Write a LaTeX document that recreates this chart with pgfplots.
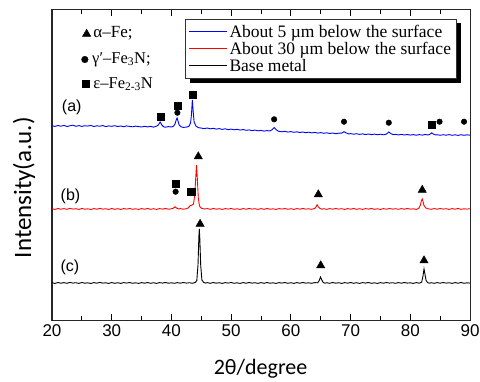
\documentclass[border=0pt]{standalone}
\usepackage{fontspec}
\setmainfont{Liberation Serif}
\newfontfamily\arialfont{Liberation Sans}
\newfontfamily\calfont{Carlito}
\usepackage{pgfplots}
\pgfplotsset{compat=1.18}
\begin{document}
\begin{tikzpicture}
\begin{axis}[
  scale only axis, width=418pt, height=310pt,
  xmin=20, xmax=90, ymin=0, ymax=310,
  xtick={20,30,...,90}, minor xtick={25,35,...,85},
  ytick=\empty, minor ytick={36,90.5,145,199.5,254},
  tick align=inside, tick pos=both,
  major tick length=6.5pt, minor tick length=4pt,
  every tick/.style={black, line width=0.8pt},
  axis line style={line width=1pt, black!85},
  /pgf/number format/assume math mode=true,
  ticklabel style={font=\arialfont\fontsize{17}{20}\selectfont},
  xticklabel style={yshift=-1pt},
  xlabel={\calfont 2θ/degree},
  ylabel={\calfont Intensity(a.u.)},
  x label style={font=\fontsize{22}{26}\selectfont, at={(axis description cs:0.499,-0.158)}, anchor=center},
  y label style={font=\fontsize{25}{30}\selectfont, at={(axis description cs:-0.067,0.427)}, anchor=center},
  legend style={name=leg, at={(axis description cs:0.3185,0.971)}, anchor=north west,
    draw=black!80, line width=0.8pt, fill=white,
    font=\fontsize{17.5}{21}\selectfont, inner xsep=3pt, inner ysep=3.3pt,
    row sep=-0.6pt, cells={anchor=west}},
  legend image code/.code={\draw[#1, line width=1pt] (0pt,0pt) -- (38pt,0pt);},
]
% (a) about 5 um below the surface
\addplot[blue, line width=0.9pt] coordinates {
(20,194.3)(20.5,193.6)(21,194.5)(21.5,193.8)(22,194.6)(22.5,193.5)(23,194.2)(23.5,194.8)(24,193.7)(24.5,194.4)
(25,193.6)(25.5,194.3)(26,193.9)(26.5,194.6)(27,193.5)(27.5,194.2)(28,193.8)(28.5,194.5)(29,193.4)(29.5,194.1)
(30,193.7)(30.5,194.3)(31,193.5)(31.5,194.0)(32,193.3)(32.5,194.1)(33,193.6)(33.5,193.2)(34,193.9)(34.5,193.4)
(35,193.0)(35.5,193.7)(36,193.1)(36.5,193.6)(37,192.9)(37.5,193.8)(37.8,195)(38.1,198)(38.4,195)(38.7,193.2)
(39,192.8)(39.5,193.4)(40,193.0)(40.3,193.6)(40.6,196)(40.8,200)(40.95,202)(41.1,199)(41.3,195)(41.6,193.2)
(42,192.6)(42.5,192.9)(42.9,193.5)(43.2,197)(43.35,205)(43.5,220)(43.65,208)(43.8,198)(44.1,194)(44.5,192.4)
(45,191.9)(45.5,191.4)(46,192.0)(46.5,191.2)(47,191.7)(47.5,190.9)(48,191.4)(48.5,190.6)(49,191.2)(49.5,190.4)
(50,190.9)(50.5,190.2)(51,190.7)(51.5,189.9)(52,190.5)(52.5,189.7)(53,190.1)(53.5,189.4)(54,189.9)(54.5,189.2)
(55,189.6)(55.5,188.9)(56,189.4)(56.5,189.0)(56.9,190.5)(57.2,192.5)(57.5,190.5)(57.9,188.8)(58.5,188.2)(59,188.7)
(59.5,187.9)(60,188.4)(60.5,187.7)(61,188.2)(61.5,187.5)(62,188.0)(62.5,187.3)(63,187.8)(63.5,187.1)(64,187.6)
(64.5,186.9)(65,187.4)(65.5,186.7)(66,187.2)(66.5,186.5)(67,187.0)(67.5,186.3)(68,186.8)(68.5,186.9)(68.9,188.3)
(69.3,187.0)(69.7,186.0)(70,186.4)(70.5,185.8)(71,186.3)(71.5,185.6)(72,186.1)(72.5,185.5)(73,186.0)(73.5,185.4)
(74,185.9)(74.5,185.3)(75,185.8)(75.5,185.2)(76,185.9)(76.4,188.0)(76.8,186.2)(77.2,185.3)(77.5,185.7)(78,185.1)
(78.5,185.6)(79,185.0)(79.5,185.5)(80,184.9)(80.5,185.4)(81,184.8)(81.5,185.4)(82,184.9)(82.5,185.5)(83,185.0)
(83.3,185.8)(83.6,187.2)(83.9,185.8)(84.3,185.0)(84.5,185.3)(85,184.7)(85.5,185.3)(86,184.8)(86.5,185.4)(87,184.7)
(87.5,185.2)(88,184.6)(88.5,185.3)(89,184.7)(89.5,185.2)(90,184.8)};
\addlegendentry{About 5 µm below the surface}
% (b) about 30 um below the surface
\addplot[red, line width=0.9pt] coordinates {
(20,111.3)(20.5,110.6)(21,111.5)(21.5,110.8)(22,111.4)(22.5,110.7)(23,111.6)(23.5,110.9)(24,111.3)(24.5,110.6)
(25,111.5)(25.5,110.8)(26,111.2)(26.5,110.5)(27,111.4)(27.5,110.8)(28,111.6)(28.5,110.9)(29,111.2)(29.5,110.6)
(30,111.5)(30.5,110.7)(31,111.3)(31.5,110.6)(32,111.4)(32.5,110.9)(33,111.5)(33.5,110.7)(34,111.2)(34.5,110.6)
(35,111.4)(35.5,110.8)(36,111.5)(36.5,110.7)(37,111.3)(37.5,110.6)(38,111.4)(38.5,110.9)(39,111.5)(39.5,110.8)
(40,111.2)(40.3,111.8)(40.6,113.2)(40.9,111.8)(41.2,111.0)(41.5,111.4)(42,110.8)(42.5,111.3)(42.8,112.0)(43.1,114.2)
(43.4,114.8)(43.7,116)(43.9,125)(44.05,140)(44.2,155)(44.35,140)(44.5,122)(44.7,114)(45,111.8)(45.5,111.0)
(46,111.4)(46.5,110.7)(47,111.5)(47.5,110.8)(48,111.3)(48.5,110.6)(49,111.4)(49.5,110.9)(50,111.5)(50.5,110.7)
(51,111.2)(51.5,110.6)(52,111.4)(52.5,110.8)(53,111.5)(53.5,110.9)(54,111.3)(54.5,110.6)(55,111.4)(55.5,110.7)
(56,111.5)(56.5,110.8)(57,111.2)(57.5,110.6)(58,111.4)(58.5,110.9)(59,111.5)(59.5,110.7)(60,111.3)(60.5,110.6)
(61,111.4)(61.5,110.8)(62,111.5)(62.5,110.9)(63,111.2)(63.5,110.7)(64,111.6)(64.2,113)(64.4,115.2)(64.6,113)
(64.9,111.5)(65.2,110.8)(65.5,111.3)(66,110.7)(66.5,111.4)(67,110.8)(67.5,111.5)(68,110.9)(68.5,111.3)(69,110.6)
(69.5,111.4)(70,110.8)(70.5,111.5)(71,110.7)(71.5,111.3)(72,110.6)(72.5,111.4)(73,110.9)(73.5,111.5)(74,110.7)
(74.5,111.2)(75,110.6)(75.5,111.4)(76,110.8)(76.5,111.5)(77,110.9)(77.5,111.3)(78,110.7)(78.5,111.4)(79,110.8)
(79.5,111.5)(80,110.9)(80.5,111.2)(81,110.6)(81.4,111.6)(81.7,115)(81.85,119)(82.0,121)(82.15,118)(82.3,114.5)
(82.6,112)(83,111.2)(83.5,110.7)(84,111.4)(84.5,110.8)(85,111.5)(85.5,110.9)(86,111.3)(86.5,110.6)(87,111.4)
(87.5,110.8)(88,111.5)(88.5,110.7)(89,111.2)(89.5,110.9)(90,111.3)};
\addlegendentry{About 30 µm below the surface}
% (c) base metal
\addplot[black, line width=0.9pt] coordinates {
(20,37.3)(20.5,36.6)(21,37.5)(21.5,36.8)(22,37.4)(22.5,36.7)(23,37.6)(23.5,36.9)(24,37.3)(24.5,36.6)
(25,37.5)(25.5,36.8)(26,37.2)(26.5,36.5)(27,37.4)(27.5,36.8)(28,37.6)(28.5,36.9)(29,37.2)(29.5,36.6)
(30,37.5)(30.5,36.7)(31,37.3)(31.5,36.6)(32,37.4)(32.5,36.9)(33,37.5)(33.5,36.7)(34,37.2)(34.5,36.6)
(35,37.4)(35.5,36.8)(36,37.5)(36.5,36.7)(37,37.3)(37.5,36.6)(38,37.4)(38.5,36.9)(39,37.5)(39.5,36.8)
(40,37.2)(40.5,36.7)(41,37.4)(41.5,36.8)(42,37.5)(42.5,36.9)(43,37.3)(43.5,36.7)(44,37.6)(44.25,39.5)
(44.45,55)(44.6,84)(44.67,91)(44.75,82)(44.9,55)(45.1,40)(45.4,37.6)(45.7,36.9)(46,37.4)(46.5,36.7)
(47,37.5)(47.5,36.8)(48,37.3)(48.5,36.6)(49,37.4)(49.5,36.9)(50,37.5)(50.5,36.7)(51,37.2)(51.5,36.6)
(52,37.4)(52.5,36.8)(53,37.5)(53.5,36.9)(54,37.3)(54.5,36.6)(55,37.4)(55.5,36.7)(56,37.5)(56.5,36.8)
(57,37.2)(57.5,36.6)(58,37.4)(58.5,36.9)(59,37.5)(59.5,36.7)(60,37.3)(60.5,36.6)(61,37.4)(61.5,36.8)
(62,37.5)(62.5,36.9)(63,37.2)(63.5,36.7)(64,37.4)(64.5,37.2)(64.75,39.5)(64.95,43)(65.15,40.5)(65.4,37.6)
(65.7,36.8)(66,37.3)(66.5,36.7)(67,37.5)(67.5,36.8)(68,37.3)(68.5,36.6)(69,37.4)(69.5,36.8)(70,37.5)
(70.5,36.7)(71,37.3)(71.5,36.6)(72,37.4)(72.5,36.9)(73,37.5)(73.5,36.7)(74,37.2)(74.5,36.6)(75,37.4)
(75.5,36.8)(76,37.5)(76.5,36.9)(77,37.3)(77.5,36.7)(78,37.4)(78.5,36.8)(79,37.5)(79.5,36.9)(80,37.2)
(80.5,36.6)(81,37.4)(81.5,36.8)(81.9,37.8)(82.1,43)(82.3,51)(82.45,46)(82.65,39.5)(82.9,37.4)(83.2,36.8)
(83.5,37.3)(84,36.7)(84.5,37.4)(85,36.8)(85.5,37.5)(86,36.9)(86.5,37.3)(87,36.6)(87.5,37.4)(88,36.8)
(88.5,37.5)(89,36.7)(89.5,37.2)(90,36.9)};
\addlegendentry{Base metal}
% phase markers
\addplot[forget plot, only marks, mark=triangle*, mark size=4.8pt, black] coordinates {
(25.8,286)(44.5,163.5)(64.6,125.5)(82.0,130)(44.8,96)(65.0,54.5)(82.3,59.5)};
\addplot[forget plot, only marks, mark=*, mark size=2.8pt, black] coordinates {
(41.0,207.3)(57.2,200.7)(68.9,198.3)(76.4,197.3)(84.9,198.3)(89.0,198.3)(40.7,128.3)};
\addplot[forget plot, only marks, mark=*, mark size=3.3pt, black] coordinates {(25.5,260.5)};
\addplot[forget plot, only marks, mark=square*, mark size=3.6pt, black] coordinates {
(25.7,236)(38.14,203)(41.1,214.5)(43.6,225)(83.6,195)(40.77,136.3)(43.3,128)};
% key texts
\node[anchor=west, font=\fontsize{17}{20}\selectfont, inner sep=0pt] at (axis cs:26.9,287) {α–Fe;};
\node[anchor=west, font=\fontsize{16.5}{19}\selectfont, inner sep=0pt] at (axis cs:26.7,260.5) {γ′–Fe\textsubscript{3}N;};
\node[anchor=west, font=\fontsize{16.5}{19}\selectfont, inner sep=0pt] at (axis cs:26.9,236) {ε–Fe\textsubscript{2-3}N};
% curve labels
\node[font=\arialfont\fontsize{16}{19}\selectfont, inner sep=0pt] at (axis cs:23.3,213) {(a)};
\node[font=\arialfont\fontsize{16}{19}\selectfont, inner sep=0pt] at (axis cs:23.1,124) {(b)};
\node[font=\arialfont\fontsize{16}{19}\selectfont, inner sep=0pt] at (axis cs:23.0,53) {(c)};
\end{axis}
% legend shadow (right and bottom strips)
\fill[black] ([xshift=0.4pt,yshift=-4.5pt]leg.north east) rectangle ([xshift=4.5pt,yshift=-4.5pt]leg.south east);
\fill[black] ([xshift=4.5pt,yshift=-0.4pt]leg.south west) rectangle ([xshift=4.5pt,yshift=-4.5pt]leg.south east);
\pgfresetboundingbox
\path[use as bounding box] ([xshift=-52pt,yshift=-61pt]current axis.south west) rectangle ([xshift=10pt,yshift=10pt]current axis.north east);
\end{tikzpicture}
\end{document}
